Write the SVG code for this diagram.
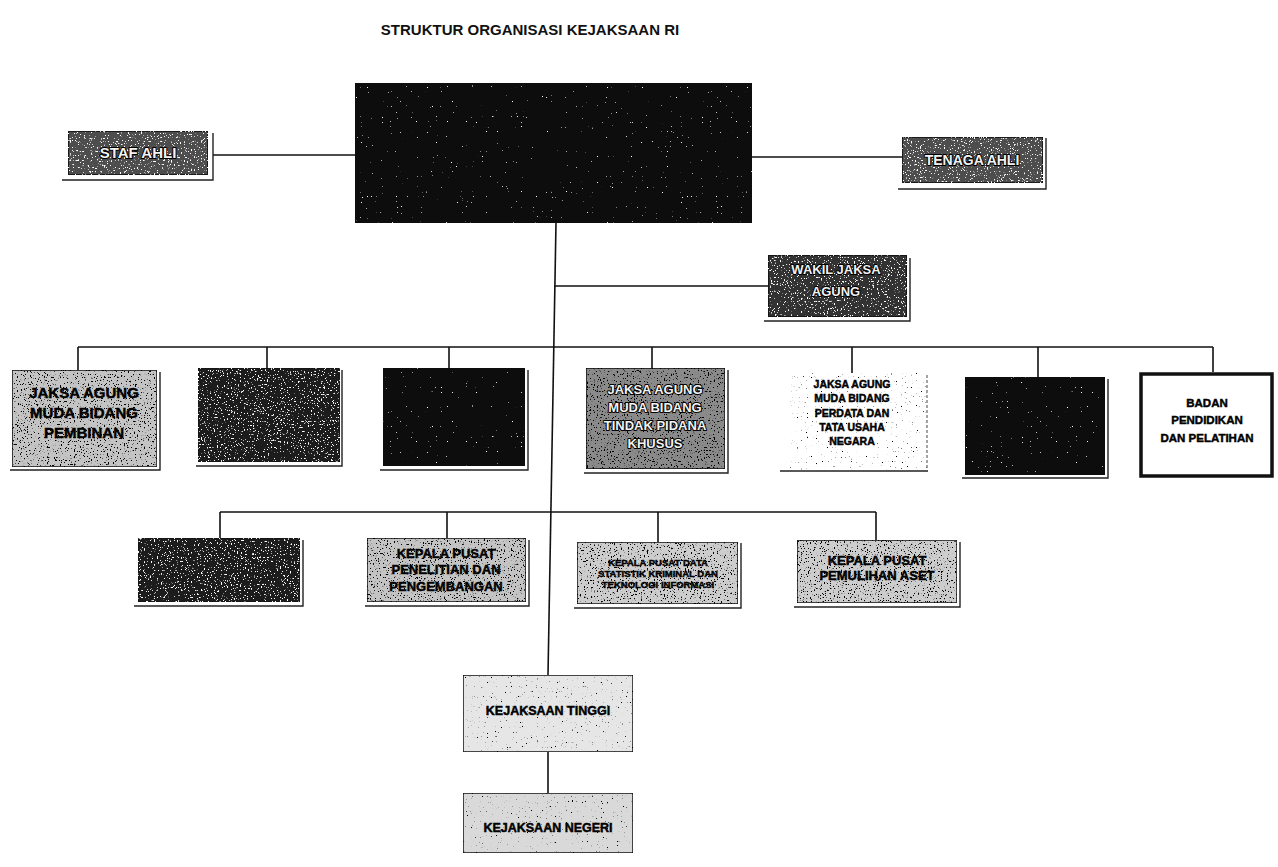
<svg xmlns="http://www.w3.org/2000/svg" width="1278" height="867" viewBox="0 0 1278 867">
<defs>
<filter id="gLight" x="0" y="0" width="1" height="1">
<feTurbulence type="fractalNoise" baseFrequency="0.7" numOctaves="2" seed="3" result="n"/>
<feColorMatrix in="n" type="matrix" values="0 0 0 0 0  0 0 0 0 0  0 0 0 0 0  14 0 0 0 -8.6" result="d"/>
<feComposite in="d" in2="SourceAlpha" operator="in" result="d2"/>
<feMerge><feMergeNode in="SourceGraphic"/><feMergeNode in="d2"/></feMerge>
</filter>
<filter id="gDark" x="0" y="0" width="1" height="1">
<feTurbulence type="fractalNoise" baseFrequency="0.7" numOctaves="2" seed="7" result="n"/>
<feColorMatrix in="n" type="matrix" values="0 0 0 0 1  0 0 0 0 1  0 0 0 0 1  14 0 0 0 -8.9" result="d"/>
<feComposite in="d" in2="SourceAlpha" operator="in" result="d2"/>
<feMerge><feMergeNode in="SourceGraphic"/><feMergeNode in="d2"/></feMerge>
</filter>
<filter id="gSparse" x="0" y="0" width="1" height="1">
<feTurbulence type="fractalNoise" baseFrequency="0.8" numOctaves="1" seed="11" result="n"/>
<feColorMatrix in="n" type="matrix" values="0 0 0 0 1  0 0 0 0 1  0 0 0 0 1  16 0 0 0 -11.8" result="d"/>
<feComposite in="d" in2="SourceAlpha" operator="in" result="d2"/>
<feMerge><feMergeNode in="SourceGraphic"/><feMergeNode in="d2"/></feMerge>
</filter>
<filter id="gFaint" x="0" y="0" width="1" height="1">
<feTurbulence type="fractalNoise" baseFrequency="0.8" numOctaves="1" seed="5" result="n"/>
<feColorMatrix in="n" type="matrix" values="0 0 0 0 0  0 0 0 0 0  0 0 0 0 0  16 0 0 0 -11" result="d"/>
<feComposite in="d" in2="SourceAlpha" operator="in" result="d2"/>
<feMerge><feMergeNode in="SourceGraphic"/><feMergeNode in="d2"/></feMerge>
</filter>
</defs>
<style>
text{font-family:"Liberation Sans",Arial,sans-serif;font-weight:bold;text-anchor:middle;}
.title{font-size:15px;fill:#111;}
.ln{stroke:#111;stroke-width:1.6;fill:none;}
.sh{stroke:#222;stroke-width:1.4;fill:none;}
.box{stroke:#111;stroke-width:1.5;}
.dark{fill:#0c0c0c;}
.mid{fill:#4e4e4e;}
.gray{fill:#8a8a8a;}
.light{fill:#c4c4c4;}
.pale{fill:#e6e6e6;}
.tb{fill:#000;stroke:#000;stroke-width:0.45;}
.tw{fill:#f2f2f2;stroke:#000;stroke-width:2;paint-order:stroke;stroke-linejoin:round;}
</style>
<rect width="1278" height="867" fill="#ffffff"/>
<text class="title" x="530" y="35">STRUKTUR ORGANISASI KEJAKSAAN RI</text>

<g id="connectors">
<line class="ln" x1="556" y1="223" x2="548" y2="675"/>
<line class="ln" x1="548" y1="752" x2="548" y2="793"/>
<line class="ln" x1="213" y1="155" x2="355" y2="155"/>
<line class="ln" x1="752" y1="157" x2="902" y2="157"/>
<line class="ln" x1="554" y1="286" x2="768" y2="286"/>
<line class="ln" x1="78" y1="347" x2="1213" y2="347"/>
<line class="ln" x1="78" y1="347" x2="78" y2="370"/>
<line class="ln" x1="267" y1="347" x2="267" y2="368"/>
<line class="ln" x1="449" y1="347" x2="449" y2="368"/>
<line class="ln" x1="652" y1="347" x2="652" y2="368"/>
<line class="ln" x1="852" y1="347" x2="852" y2="373"/>
<line class="ln" x1="1038" y1="347" x2="1038" y2="377"/>
<line class="ln" x1="1213" y1="347" x2="1213" y2="372"/>
<line class="ln" x1="220" y1="512" x2="876" y2="512"/>
<line class="ln" x1="220" y1="512" x2="220" y2="538"/>
<line class="ln" x1="447" y1="512" x2="447" y2="538"/>
<line class="ln" x1="658" y1="512" x2="658" y2="542"/>
<line class="ln" x1="876" y1="512" x2="876" y2="540"/>
</g>

<g id="node-jaksa-agung">
<rect class="box dark" x="355" y="83" width="397" height="140" filter="url(#gSparse)"/>
</g>

<g id="node-staf-ahli">
<rect class="box mid" x="68" y="131" width="140" height="44" filter="url(#gDark)"/>
<polyline class="sh" points="213,133 213,180 62,180"/>
<text class="tw" x="138" y="158" font-size="15">STAF AHLI</text>
</g>

<g id="node-tenaga-ahli">
<rect class="box mid" x="902" y="137" width="141" height="46" filter="url(#gDark)"/>
<polyline class="sh" points="1046,138 1046,189 898,189"/>
<text class="tw" x="972" y="165" font-size="14">TENAGA AHLI</text>
</g>

<g id="node-wakil">
<rect class="box mid" x="768" y="255" width="139" height="62" style="fill:#333" filter="url(#gDark)"/>
<polyline class="sh" points="910,258 910,321 764,321"/>
<text class="tw" x="836" y="274" font-size="13">WAKIL JAKSA</text>
<text class="tw" x="836" y="296" font-size="13">AGUNG</text>
</g>

<g id="node-jam-pembinaan">
<rect class="box light" x="12" y="370" width="145" height="97" filter="url(#gLight)"/>
<polyline class="sh" points="160,372 160,470 10,470"/>
<text class="tb" x="84" y="398" font-size="15">JAKSA AGUNG</text>
<text class="tb" x="84" y="418" font-size="15">MUDA BIDANG</text>
<text class="tb" x="84" y="438" font-size="15">PEMBINAN</text>
</g>

<g id="node-jam-2">
<rect class="box dark" x="198" y="368" width="142" height="94" style="fill:#1a1a1a" filter="url(#gDark)"/>
<polyline class="sh" points="342,370 342,466 196,466"/>
</g>

<g id="node-jam-3">
<rect class="box dark" x="383" y="368" width="142" height="98" filter="url(#gSparse)"/>
<polyline class="sh" points="528,370 528,470 380,470"/>
</g>

<g id="node-jam-pidsus">
<rect class="box gray" x="586" y="368" width="139" height="101" filter="url(#gLight)"/>
<polyline class="sh" points="728,370 728,473 584,473"/>
<text class="tw" x="655" y="394" font-size="13">JAKSA AGUNG</text>
<text class="tw" x="655" y="412" font-size="13">MUDA BIDANG</text>
<text class="tw" x="655" y="430" font-size="13">TINDAK PIDANA</text>
<text class="tw" x="655" y="448" font-size="13">KHUSUS</text>
</g>

<g id="node-jam-datun">
<rect x="790" y="373" width="137" height="97" fill="#ffffff" filter="url(#gFaint)"/>
<line x1="927" y1="375" x2="927" y2="470" stroke="#666" stroke-width="1.2" stroke-dasharray="3 2"/>
<line class="sh" x1="780" y1="471" x2="928" y2="471"/>
<text class="tb" x="852" y="388" font-size="10.5">JAKSA AGUNG</text>
<text class="tb" x="852" y="402" font-size="10.5">MUDA BIDANG</text>
<text class="tb" x="852" y="417" font-size="10.5">PERDATA DAN</text>
<text class="tb" x="852" y="431" font-size="10.5">TATA USAHA</text>
<text class="tb" x="852" y="445" font-size="10.5">NEGARA</text>
</g>

<g id="node-jam-6">
<rect class="box dark" x="965" y="377" width="140" height="98" filter="url(#gSparse)"/>
<polyline class="sh" points="1108,379 1108,478 962,478"/>
</g>

<g id="node-badan-diklat">
<rect x="1141" y="374" width="131" height="102" fill="#ffffff" stroke="#111" stroke-width="3.5"/>
<text class="tb" x="1207" y="407" font-size="11.5">BADAN</text>
<text class="tb" x="1207" y="424" font-size="11.5">PENDIDIKAN</text>
<text class="tb" x="1207" y="442" font-size="11.5">DAN PELATIHAN</text>
</g>

<g id="node-pusat-1">
<rect class="box dark" x="138" y="538" width="162" height="64" style="fill:#1c1c1c" filter="url(#gDark)"/>
<polyline class="sh" points="303,540 303,606 134,606"/>
</g>

<g id="node-pusat-litbang">
<rect class="box light" x="367" y="538" width="159" height="64" filter="url(#gLight)"/>
<polyline class="sh" points="529,540 529,606 365,606"/>
<text class="tb" x="446" y="558" font-size="13">KEPALA PUSAT</text>
<text class="tb" x="446" y="574" font-size="13">PENELITIAN DAN</text>
<text class="tb" x="446" y="591" font-size="13">PENGEMBANGAN</text>
</g>

<g id="node-pusat-data">
<rect class="box light" x="577" y="542" width="161" height="62" style="fill:#cdcdcd" filter="url(#gLight)"/>
<polyline class="sh" points="741,543 741,608 574,608"/>
<text class="tb" x="658" y="566" font-size="9.5">KEPALA PUSAT DATA</text>
<text class="tb" x="658" y="577" font-size="9.5">STATISTIK KRIMINAL DAN</text>
<text class="tb" x="658" y="588" font-size="9.5">TEKNOLOGI INFORMASI</text>
</g>

<g id="node-pusat-aset">
<rect class="box light" x="797" y="540" width="160" height="63" style="fill:#cdcdcd" filter="url(#gLight)"/>
<polyline class="sh" points="960,542 960,607 794,607"/>
<text class="tb" x="877" y="565" font-size="13">KEPALA PUSAT</text>
<text class="tb" x="877" y="580" font-size="13">PEMULIHAN ASET</text>
</g>

<g id="node-kejati">
<rect class="box pale" x="463" y="675" width="170" height="77" filter="url(#gFaint)"/>
<text class="tb" x="548" y="715" font-size="12.5">KEJAKSAAN TINGGI</text>
</g>

<g id="node-kejari">
<rect class="box pale" x="463" y="793" width="170" height="60" style="fill:#d9d9d9" filter="url(#gFaint)"/>
<text class="tb" x="548" y="832" font-size="12.5">KEJAKSAAN NEGERI</text>
</g>
</svg>
